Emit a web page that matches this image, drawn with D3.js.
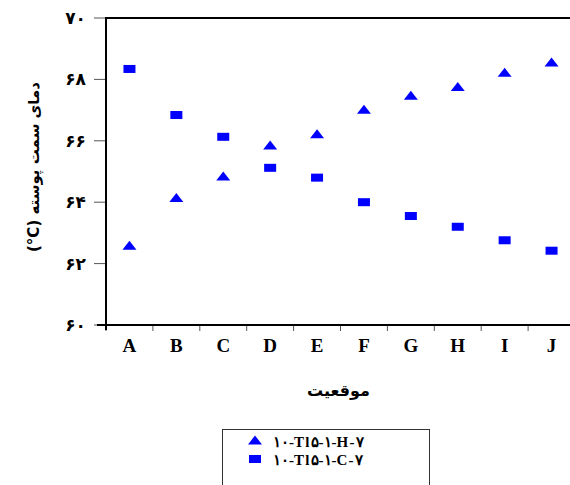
<!DOCTYPE html>
<html>
<head>
<meta charset="utf-8">
<script src="https://cdn.jsdelivr.net/npm/d3@7"></script>
<style>
  body { margin: 0; background: #fff; }
  svg { display: block; }
</style>
</head>
<body>
<div id="chart"></div>
<script>
// داده‌ها
var categories = ['A', 'B', 'C', 'D', 'E', 'F', 'G', 'H', 'I', 'J'];
var seriesH = [62.6, 64.15, 64.85, 65.86, 66.23, 67.03, 67.48, 67.77, 68.23, 68.57];
var seriesC = [68.34, 66.84, 66.13, 65.12, 64.8, 64.0, 63.55, 63.2, 62.76, 62.42];
var yTicks = [60, 62, 64, 66, 68, 70];
var yTickLabels = ['۶۰', '۶۲', '۶۴', '۶۶', '۶۸', '۷۰'];
var legendLabels = ['۱۰-Tl۵-۱-H-۷', '۱۰-Tl۵-۱-C-۷'];
var yTitle = 'دمای سمت پوسته';
var yUnit = '(°C)';
var xTitle = 'موقعیت';

var width = 570, height = 485;
var pL = 106, pR = 575, pT = 18, pB = 325;
var blue = '#0000ff';

var svg = d3.select('#chart').append('svg')
    .attr('width', width)
    .attr('height', height);

var x = d3.scaleBand().domain(categories).range([pL, pR]);
var y = d3.scaleLinear().domain([60, 70]).range([pB, pT]);

// frame top line
svg.append('line')
    .attr('x1', pL).attr('x2', width)
    .attr('y1', pT).attr('y2', pT)
    .style('stroke', '#000').style('stroke-width', 2);

// y ticks
var yg = svg.append('g');
yg.selectAll('line').data(yTicks).enter().append('line')
    .attr('x1', pL - 12).attr('x2', pL)
    .attr('y1', function(d) { return y(d); })
    .attr('y2', function(d) { return y(d); })
    .style('stroke', '#555').style('stroke-width', 1);
yg.selectAll('text').data(yTicks).enter().append('text')
    .attr('x', pL - 20)
    .attr('y', function(d) { return y(d) + 6; })
    .attr('text-anchor', 'end')
    .style('font', 'bold 17px "DejaVu Sans"')
    .text(function(d, i) { return yTickLabels[i]; });

// x ticks (band boundaries)
var xg = svg.append('g');
xg.selectAll('line').data(categories).enter().append('line')
    .attr('x1', function(d) { return x(d); })
    .attr('x2', function(d) { return x(d); })
    .attr('y1', pB).attr('y2', pB + 6)
    .style('stroke', '#555').style('stroke-width', 1);
xg.selectAll('text').data(categories).enter().append('text')
    .attr('x', function(d) { return x(d) + x.bandwidth() / 2; })
    .attr('y', pB + 27)
    .attr('text-anchor', 'middle')
    .style('font', 'bold 19px "Liberation Serif"')
    .text(function(d) { return d; });

// axis lines
svg.append('line')
    .attr('x1', pL).attr('x2', pL)
    .attr('y1', pT - 1).attr('y2', pB + 5)
    .style('stroke', '#000').style('stroke-width', 2);
svg.append('line')
    .attr('x1', pL - 9).attr('x2', width)
    .attr('y1', pB).attr('y2', pB)
    .style('stroke', '#000').style('stroke-width', 2);

// markers
function tri(cx, cy) {
    return 'M' + (cx - 7) + ',' + (cy + 4.5) + 'L' + cx + ',' + (cy - 4.5) +
        'L' + (cx + 7) + ',' + (cy + 4.5) + 'Z';
}
svg.append('g').selectAll('path').data(seriesH).enter().append('path')
    .attr('d', function(d, i) { return tri(x(categories[i]) + x.bandwidth() / 2, y(d)); })
    .style('fill', blue);
svg.append('g').selectAll('rect').data(seriesC).enter().append('rect')
    .attr('x', function(d, i) { return x(categories[i]) + x.bandwidth() / 2 - 6; })
    .attr('y', function(d) { return y(d) - 4; })
    .attr('width', 12).attr('height', 8)
    .style('fill', blue);

// titles
var yt = svg.append('text')
    .attr('transform', 'translate(39,167) rotate(-90)')
    .attr('text-anchor', 'middle')
    .attr('direction', 'ltr')
    .style('font', 'bold 15px "DejaVu Sans"');
yt.append('tspan').text(yUnit + ' ');
yt.append('tspan').text(yTitle);

svg.append('text')
    .attr('x', (pL + pR) / 2 - 2)
    .attr('y', 396)
    .attr('text-anchor', 'middle')
    .style('font', 'bold 16px "DejaVu Sans"')
    .text(xTitle);

// legend
var lg = svg.append('g');
lg.append('rect')
    .attr('x', 222.5).attr('y', 429.5)
    .attr('width', 207).attr('height', 70)
    .style('fill', 'none').style('stroke', '#333').style('stroke-width', 1);
lg.append('path').attr('d', tri(255, 440)).style('fill', blue);
lg.append('rect').attr('x', 249).attr('y', 455).attr('width', 12).attr('height', 8).style('fill', blue);
lg.selectAll('text').data(legendLabels).enter().append('text')
    .attr('x', 273)
    .attr('y', function(d, i) { return 447 + i * 18; })
    .attr('direction', 'ltr')
    .style('font', 'bold 15px "Liberation Serif"')
    .style('letter-spacing', '1.2px')
    .text(function(d) { return d; });
</script>
</body>
</html>
